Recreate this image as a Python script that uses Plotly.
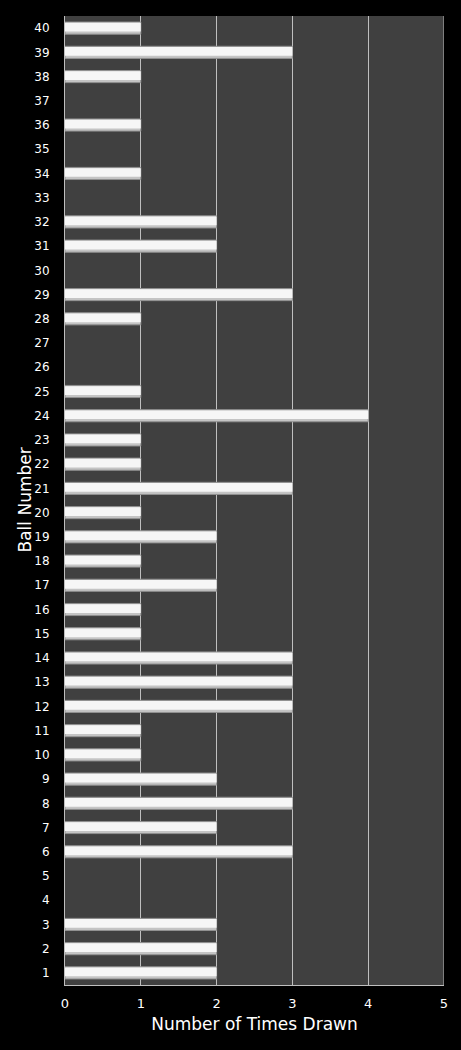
import plotly.graph_objects as go

balls = list(range(1, 41))
times_drawn = [2, 2, 2, 0, 0, 3, 2, 3, 2, 1,
               1, 3, 3, 3, 1, 1, 2, 1, 2, 1,
               3, 1, 1, 4, 1, 0, 0, 1, 3, 0,
               2, 2, 0, 1, 0, 1, 0, 1, 3, 1]
x_ticks = [0, 1, 2, 3, 4, 5]

line_w = [0 if v == 0 else 1 for v in times_drawn]

fig = go.Figure()
# base bar (shaded body)
fig.add_trace(go.Bar(
    x=times_drawn, y=balls, orientation="h", width=0.5, offset=-0.25,
    marker=dict(color="#c4c4c4", line=dict(color="#909090", width=line_w)),
    hoverinfo="x+y", showlegend=False,
))
# highlight band
fig.add_trace(go.Bar(
    x=times_drawn, y=balls, orientation="h", width=0.36, offset=-0.14,
    marker=dict(color="#f6f6f6", line=dict(width=0)),
    hoverinfo="skip", showlegend=False,
))

fig.update_layout(
    width=461, height=1050,
    paper_bgcolor="#000000", plot_bgcolor="#404040",
    margin=dict(l=65, r=17, t=16, b=65),
    barmode="overlay",
    font=dict(family="DejaVu Sans", color="#ffffff", size=13),
    xaxis=dict(
        range=[0, 5], tickvals=x_ticks, showgrid=True, gridcolor="#bfbfbf", gridwidth=1,
        zeroline=False, showline=True, linecolor="#bfbfbf", mirror=False,
        ticks="outside", ticklen=6, tickcolor="#000000",
        title=dict(text="Number of Times Drawn", font=dict(size=17), standoff=8),
        tickfont=dict(size=13),
    ),
    yaxis=dict(
        range=[0.5, 40.5], tickvals=balls, ticktext=[str(b) for b in balls],
        showgrid=False, zeroline=False, showline=True, linecolor="#bfbfbf",
        ticks="outside", ticklen=12, tickcolor="#000000",
        tickfont=dict(size=12),
    ),
    annotations=[dict(text="Ball Number", xref="paper", yref="paper", x=0, y=0.5,
                      xshift=-41, textangle=-90, showarrow=False,
                      xanchor="center", yanchor="middle",
                      font=dict(size=17, color="#ffffff"))],
    shapes=[dict(type="line", xref="x", yref="paper", x0=5, x1=5, y0=0, y1=1,
                 line=dict(color="#bfbfbf", width=1))],
)

fig.write_html(
    "out.html",
    config={"displayModeBar": False},
    post_script="document.body.style.margin='0';document.body.style.background='#000';"
)
